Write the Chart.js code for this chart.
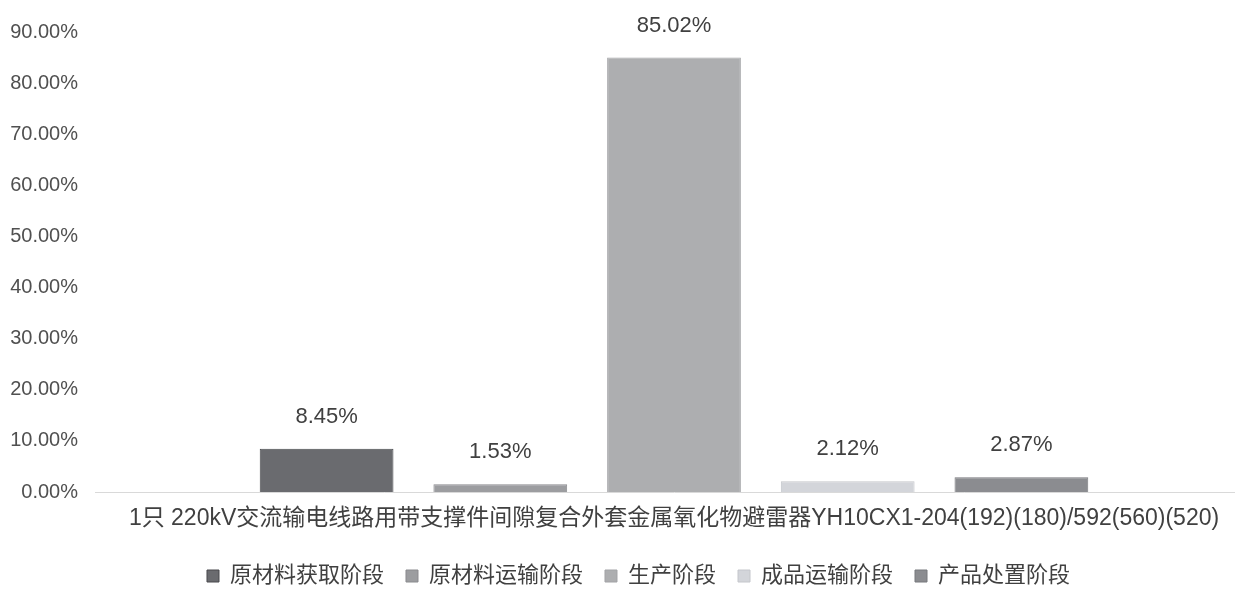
<!DOCTYPE html>
<html>
<head>
<meta charset="utf-8">
<script src="https://cdn.jsdelivr.net/npm/chart.js@4/dist/chart.umd.min.js"></script>
<style>
  html, body { margin: 0; padding: 0; background: #fff; overflow: hidden; }
  #wrap { width: 1278px; height: 590px; }
</style>
</head>
<body>
<div id="wrap"><canvas id="chart"></canvas></div>
<script>
const categories = ['1只 220kV交流输电线路用带支撑件间隙复合外套金属氧化物避雷器YH10CX1-204(192)(180)/592(560)(520)'];
const stageNames = ['原材料获取阶段', '原材料运输阶段', '生产阶段', '成品运输阶段', '产品处置阶段'];
const stageValues = [8.45, 1.53, 85.02, 2.12, 2.87];
const stageColors = ['#6a6b6f', '#9c9da0', '#adaeb0', '#d3d5da', '#8b8c90'];
const stageBorders = ['#48494c', '#8a8b8e', '#a2a3a6', '#c4c6cb', '#77787c'];
const yTicks = [0, 10, 20, 30, 40, 50, 60, 70, 80, 90];

const fontFamily = '"Liberation Sans", "Noto Sans CJK SC", sans-serif';

// value labels above each bar
const barLabels = {
    id: 'barLabels',
    afterDatasetsDraw(chart) {
        const ctx = chart.ctx;
        ctx.save();
        ctx.font = '22px ' + fontFamily;
        ctx.fillStyle = '#404040';
        ctx.textAlign = 'center';
        ctx.textBaseline = 'middle';
        chart.data.datasets.forEach((ds, i) => {
            const meta = chart.getDatasetMeta(i);
            meta.data.forEach((bar, j) => {
                ctx.fillText(ds.data[j].toFixed(2) + '%', bar.x, bar.y - 32);
            });
        });
        ctx.restore();
    }
};

// legend sits a little right of the canvas centre in the original
const legendShift = {
    id: 'legendShift',
    afterLayout(chart) {
        if (chart.legend) {
            chart.legend.left += 12;
            chart.legend.right += 12;
        }
    }
};

const datasets = stageNames.map((name, i) => ({
    label: name,
    data: [stageValues[i]],
    backgroundColor: stageColors[i],
    borderColor: stageBorders[i],
    borderWidth: 1,
    categoryPercentage: 0.75,
    barPercentage: 0.77
}));

const ctx = document.getElementById('chart').getContext('2d');
const config = {
    type: 'bar',
    data: {
        labels: categories,
        datasets: datasets
    },
    options: {
        responsive: true,
        maintainAspectRatio: false,
        animation: false,
        layout: {
            padding: { top: 32, left: 0, right: 25, bottom: -7 }
        },
        plugins: {
            legend: {
                position: 'bottom',
                labels: {
                    boxWidth: 12,
                    boxHeight: 12,
                    padding: 22,
                    color: '#404040',
                    font: { size: 22, family: fontFamily }
                }
            },
            tooltip: { enabled: false }
        },
        scales: {
            x: {
                afterFit(scale) { scale.height = 51; },
                grid: { display: false, drawTicks: false },
                border: { display: true, color: '#d9d9d9', width: 1 },
                ticks: {
                    color: '#404040',
                    padding: 13,
                    maxRotation: 0,
                    font: { size: 23, family: fontFamily }
                }
            },
            y: {
                min: 0,
                max: 90,
                afterFit(scale) { scale.width = 95; },
                afterBuildTicks(scale) { scale.ticks = yTicks.map(v => ({ value: v })); },
                grid: { display: false, drawTicks: false },
                border: { display: false },
                ticks: {
                    color: '#505050',
                    padding: 17,
                    font: { size: 20, family: fontFamily },
                    callback: v => v.toFixed(2) + '%'
                }
            }
        }
    },
    plugins: [barLabels, legendShift]
};

var StageChart = new Chart(ctx, config);
</script>
</body>
</html>
